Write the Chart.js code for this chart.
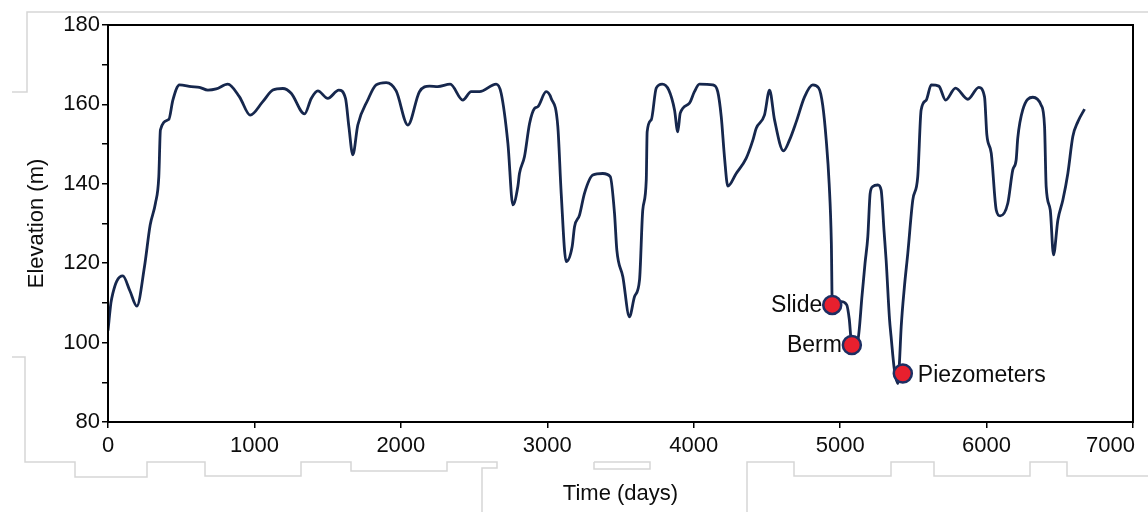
<!DOCTYPE html>
<html>
<head>
<meta charset="utf-8">
<script src="https://cdn.jsdelivr.net/npm/chart.js@4/dist/chart.umd.min.js"></script>
<style>
  html, body { margin: 0; padding: 0; background: #ffffff; }
  #wrap { position: relative; width: 1148px; height: 512px; }
  #deco { position: absolute; left: 0; top: 0; }
  #c { position: absolute; left: 0; top: 0; }
</style>
</head>
<body>
<div id="wrap">
  <svg id="deco" width="1148" height="512" fill="none" stroke="#d6d6d6" stroke-width="1.5">
    <polyline points="12,92 27,92 27,12 1148,12"/>
    <polyline points="12,357 25,357 25,462 75,462 75,477 147,477 147,462 205,462 205,476 301,476 301,462 351,462 351,471 447,471 447,462 497,462 497,468 482,468 482,512"/>
    <polyline points="594,462 650,462 650,469 594,469 594,462"/>
    <polyline points="747,512 747,462 794,462 794,476 891,476 891,462 934,462 934,476 1030,476 1030,462 1067,462 1067,476 1148,476"/>
  </svg>
  <canvas id="c" width="1148" height="512"></canvas>
</div>
<script>
// ---- Data ----
const days = [
  0, 20, 33, 60, 101, 150, 197, 249, 288, 324, 347, 358, 415, 443, 488, 568, 625, 682, 739, 818,
  898, 971, 1057, 1126, 1194, 1251, 1342, 1388, 1433, 1501, 1576, 1622, 1645, 1672, 1706, 1774, 1831, 1900,
  1968, 2048, 2127, 2196, 2252, 2337, 2423, 2480, 2537, 2651, 2685, 2731, 2765, 2799, 2810, 2844, 2879,
  2913, 2935, 2992, 3027, 3072, 3095, 3129, 3170, 3186, 3220, 3254, 3311, 3379, 3430, 3459, 3475, 3516,
  3561, 3596, 3630, 3652, 3676, 3682, 3710, 3744, 3785, 3830, 3869, 3891, 3908, 3971, 4005, 4039, 4130,
  4164, 4188, 4210, 4233, 4290, 4358, 4404, 4427, 4483, 4518, 4552, 4613, 4654, 4700, 4757, 4813, 4854,
  4881, 4905, 4925, 4940, 4946, 5007, 5045, 5062, 5080, 5120, 5150, 5170, 5189, 5205, 5223, 5257, 5280,
  5300, 5314, 5337, 5348, 5371, 5394, 5405, 5417, 5439, 5462, 5496, 5530, 5553, 5588, 5622, 5674, 5720,
  5788, 5872, 5947, 5986, 6002, 6032, 6066, 6093, 6145, 6179, 6202, 6213, 6247, 6316, 6373, 6396, 6407,
  6435, 6457, 6487, 6521, 6555, 6589, 6623, 6669
];
const elevation = [
  103, 110, 112.4, 115.5, 116.8, 113, 109.2, 119.1, 129.6, 135.1, 141.8, 153.6, 156.2, 161.1, 164.9, 164.5, 164.3, 163.6, 163.9, 165.1,
  161.9, 157.3, 160.7, 163.6, 164.0, 162.8, 157.6, 161.5, 163.4, 161.5, 163.6, 161.5, 154.4, 147.3, 154.8, 161.1, 164.9, 165.5,
  163.4, 154.8, 163.2, 164.6, 164.5, 165.1, 161.1, 163.2, 163.2, 165.1, 162.8, 150.2, 134.7, 139.3, 142.6, 146.8, 155.2,
  159.0, 159.4, 163.2, 161.5, 154.4, 137.6, 120.4, 124.2, 129.2, 132.1, 137.6, 142.2, 142.6, 141.8, 132.6, 123.3, 116.6,
  106.5, 111.6, 115.8, 133.4, 141.0, 153.1, 156.1, 164.1, 165.1, 163.6, 158.6, 153.1, 157.8, 160.3, 163.2, 165.1, 164.9,
  163.2, 156.9, 146.8, 139.4, 142.6, 146.4, 151.0, 154.0, 157.3, 163.6, 156.1, 148.3, 151.0, 155.6, 161.9, 164.9, 164.1,
  159.8, 151.0, 140, 125, 110, 110.3, 109.5, 106, 99.4, 100.5, 112, 120, 126.7, 137.6, 139.3, 139.7, 138.4,
  128, 120.8, 106, 101.5, 93, 89.7, 95, 104, 114.1, 122.5, 135.9, 141.8, 158.6, 161.1, 164.9, 164.6, 161.1,
  164.1, 161.3, 164.3, 161.9, 152.3, 147.7, 133.4, 131.9, 135.1, 143.5, 146.0, 151.5, 158.6, 161.8, 159.8, 154.4, 139.3,
  133.4, 122.1, 130.9, 135.9, 142.6, 151.9, 155.6, 158.8
];
const eventNames = ['Slide', 'Berm', 'Piezometers'];
const eventDays = [4946, 5080, 5428];
const eventElevation = [109.5, 99.4, 92.2];
const eventLabelSide = ['left', 'left', 'right'];
const xTickValues = [0, 1000, 2000, 3000, 4000, 5000, 6000, 7000];

const FONT = "'Liberation Sans', Arial, sans-serif";
const TEXT = '#0d0d0d';

const linePoints = days.map((d, i) => ({ x: d, y: elevation[i] }));
const eventPoints = eventDays.map((d, i) => ({ x: d, y: eventElevation[i] }));

const framePlugin = {
  id: 'frame',
  afterDatasetsDraw(chart) {
    const { ctx, chartArea: a } = chart;
    ctx.save();
    ctx.strokeStyle = '#000000';
    ctx.lineWidth = 2;
    ctx.strokeRect(a.left, a.top, a.right - a.left, a.bottom - a.top);
    ctx.restore();
  },
  afterDraw(chart) {
    const { ctx } = chart;
    const xs = chart.scales.x;
    ctx.save();
    ctx.fillStyle = TEXT;
    ctx.font = '22px ' + FONT;
    ctx.textAlign = 'center';
    ctx.textBaseline = 'middle';
    xTickValues.forEach(v => {
      const label = String(v);
      const w = ctx.measureText(label).width;
      let px = xs.getPixelForValue(v);
      px = Math.min(px, chart.width - 13 - w / 2);
      ctx.fillText(label, px, 446);
    });
    // event labels beside the markers
    const meta = chart.getDatasetMeta(1);
    ctx.font = '23px ' + FONT;
    meta.data.forEach((pt, i) => {
      if (eventLabelSide[i] === 'left') {
        ctx.textAlign = 'right';
        ctx.fillText(eventNames[i], pt.x - 10, pt.y + 1);
      } else {
        ctx.textAlign = 'left';
        ctx.fillText(eventNames[i], pt.x + 15, pt.y + 2);
      }
    });
    ctx.restore();
  }
};

new Chart(document.getElementById('c'), {
  type: 'line',
  data: {
    datasets: [
      {
        data: linePoints,
        borderColor: '#16274d',
        borderWidth: 2.8,
        pointRadius: 0,
        fill: false,
        cubicInterpolationMode: 'monotone',
        order: 2
      },
      {
        type: 'scatter',
        data: eventPoints,
        backgroundColor: '#e8202e',
        borderColor: '#1d2f63',
        borderWidth: 2.5,
        pointRadius: 9,
        order: 1
      }
    ]
  },
  options: {
    responsive: false,
    animation: false,
    devicePixelRatio: 1,
    layout: { padding: { left: 0, right: 15, top: 25, bottom: 0 } },
    plugins: { legend: { display: false }, tooltip: { enabled: false } },
    scales: {
      x: {
        type: 'linear',
        min: 0,
        max: 7000,
        afterFit(s) { s.height = 90; },
        border: { display: false },
        grid: { drawOnChartArea: false, drawTicks: true, tickLength: 6, color: '#000000', lineWidth: 1.5 },
        ticks: { display: false, stepSize: 1000 },
        title: {
          display: true,
          text: 'Time (days)',
          color: TEXT,
          font: { family: FONT, size: 22 },
          padding: { top: 0, bottom: 5 }
        }
      },
      y: {
        min: 80,
        max: 180,
        afterFit(s) { s.width = 108; },
        border: { display: false },
        grid: { drawOnChartArea: false, drawTicks: true, tickLength: 6, color: '#000000', lineWidth: 1.5 },
        ticks: {
          stepSize: 10,
          padding: 2,
          color: TEXT,
          font: { family: FONT, size: 22 },
          callback: v => (v % 20 === 0 ? String(v) : '')
        },
        title: {
          display: true,
          text: 'Elevation (m)',
          color: TEXT,
          font: { family: FONT, size: 22 },
          padding: { top: 24, bottom: 0 }
        }
      }
    }
  },
  plugins: [framePlugin]
});
</script>
</body>
</html>
